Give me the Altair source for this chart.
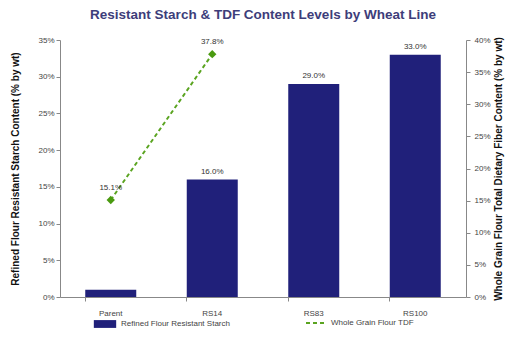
import altair as alt
import pandas as pd

categories = ["Parent", "RS14", "RS83", "RS100"]
starch = [0.010, 0.160, 0.290, 0.330]
starch_labels = ["", "16.0%", "29.0%", "33.0%"]
tdf_categories = ["Parent", "RS14"]
tdf = [0.151, 0.378]
tdf_labels = ["15.1%", "37.8%"]

bar_name = "Refined Flour Resistant Starch"
line_name = "Whole Grain Flour TDF"

bars_df = pd.DataFrame({"cat": categories, "val": starch, "lab": starch_labels, "series": bar_name})
line_df = pd.DataFrame({"cat": tdf_categories, "val": tdf, "lab": tdf_labels, "series": line_name})

FONT = "Liberation Sans"
NAVY = "#20207a"
GREEN = "#5aa420"

x = alt.X("cat:N", sort=categories, title=None,
          scale=alt.Scale(paddingInner=0.5, paddingOuter=0.25),
          axis=alt.Axis(labelAngle=0, labelColor="#444", labelFontSize=8, labelPadding=8,
                        domainColor="#888", tickColor="#888", bandPosition=0, tickSize=4))

y_left = alt.Y("val:Q", title="Refined Flour Resistant Starch Content  (% by wt)",
               scale=alt.Scale(domain=[0, 0.35]),
               axis=alt.Axis(format=".0%", values=[0, 0.05, 0.1, 0.15, 0.2, 0.25, 0.3, 0.35],
                             grid=False, labelColor="#444", labelFontSize=8, domainColor="#888",
                             tickColor="#888", tickSize=4, titleFontSize=10, titleFontWeight="bold",
                             titleColor="#111", titlePadding=17))

bar = alt.Chart(bars_df).mark_bar(size=51).encode(
    x=x, y=y_left,
    color=alt.Color("series:N", scale=alt.Scale(domain=[bar_name], range=[NAVY]),
                    legend=alt.Legend(title=None, orient="none", legendX=33, legendY=272,
                                      symbolType="M-1,-0.35H1V0.35H-1Z", symbolSize=500,
                                      labelFontSize=8, labelColor="#444", symbolOpacity=1)),
)
bar_text = alt.Chart(bars_df).mark_text(dy=-8, fontSize=8, color="#333", font=FONT).encode(
    x=x, y=y_left, text="lab:N")
left = alt.layer(bar, bar_text)

y_right = alt.Y("val:Q", title="Whole Grain Flour Total Dietary Fiber Content  (% by wt)",
                scale=alt.Scale(domain=[0, 0.40]),
                axis=alt.Axis(orient="right", format=".0%",
                              values=[0, 0.05, 0.1, 0.15, 0.2, 0.25, 0.3, 0.35, 0.4],
                              grid=False, labelColor="#444", labelFontSize=8, domainColor="#888",
                              tickColor="#888", tickSize=4, labelPadding=4, titleFontSize=10,
                              titleFontWeight="bold", titleColor="#111", titleAngle=270,
                              titlePadding=13))

line = alt.Chart(line_df).mark_line(strokeDash=[4, 3], strokeWidth=2).encode(
    x=x, y=y_right,
    stroke=alt.Stroke("series:N", scale=alt.Scale(domain=[line_name], range=[GREEN]),
                      legend=alt.Legend(title=None, orient="none", legendX=245, legendY=272,
                                        symbolType="stroke", symbolDash=[4, 3], symbolStrokeWidth=2,
                                        symbolSize=400, labelFontSize=8, labelColor="#444")),
)
pts = alt.Chart(line_df).mark_point(shape="diamond", filled=True, size=70, color="#4a9a10", opacity=1).encode(
    x=x, y=y_right)
line_text = alt.Chart(line_df).mark_text(dy=-12, fontSize=8, color="#333", font=FONT).encode(
    x=x, y=y_right, text="lab:N")
right = alt.layer(line, pts, line_text)

chart = alt.layer(left, right).resolve_scale(y="independent", color="independent", stroke="independent").properties(
    width=406, height=257,
    title=alt.Title("Resistant Starch & TDF Content Levels by Wheat Line", fontSize=13.5,
                    fontWeight="bold", color="#3d3d7a", font=FONT, offset=14, anchor="middle"),
    autosize=alt.AutoSizeParams(type="none"),
    padding={"left": 60, "top": 40, "right": 48, "bottom": 40},
).configure(font=FONT).configure_view(stroke=None)

chart.save("out.html", embed_options={"renderer": "svg", "actions": False})
